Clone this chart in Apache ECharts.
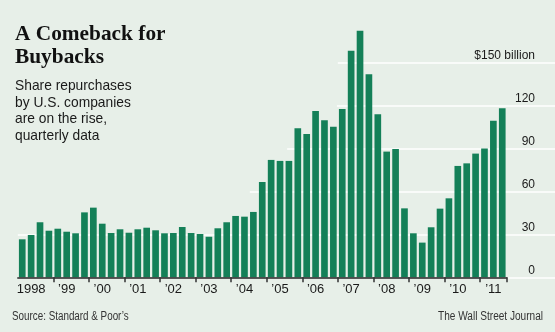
<!DOCTYPE html>
<html>
<head>
<meta charset="utf-8">
<script src="https://cdn.jsdelivr.net/npm/echarts@6/dist/echarts.min.js"></script>
<style>
html,body{margin:0;padding:0;background:#e7efe8;}
#c{width:555px;height:332px;}
</style>
</head>
<body>
<div id="c"></div>
<script>
// Quarterly share repurchases, $ billion (1998 Q1 .. 2011 Q3)
const years = [1998,1999,2000,2001,2002,2003,2004,2005,2006,2007,2008,2009,2010,2011];
const yearLabels = ['1998','\u201999','\u201900','\u201901','\u201902','\u201903','\u201904','\u201905','\u201906','\u201907','\u201908','\u201909','\u201910','\u201911'];
const buybacks = [
  26.5, 29.5, 38.4, 32.5,
  33.9, 31.8, 30.7, 45.3,
  48.6, 37.4, 30.9, 33.5,
  31.1, 33.5, 34.6, 32.8,
  30.7, 30.9, 35.1, 30.9,
  30.2, 28.3, 34.2, 38.4,
  42.8, 42.3, 45.6, 66.5,
  81.9, 81.2, 81.2, 104,
  100, 116, 109.5, 105,
  117.4, 158, 172, 141.7,
  113.7, 87.7, 89.5, 48.1,
  30.7, 24.2, 34.9, 47.9,
  55.1, 77.7, 79.5, 86.3,
  89.8, 109.3, 118
];
const quarters = buybacks.map((v, i) => years[Math.floor(i / 4)] + ' Q' + (i % 4 + 1));
const yTickValues = [0, 30, 60, 90, 120, 150];
const yTopLabel = '$150 billion';

// styling: where each white gridline begins (in quarter units from 1998 Q1)
const gridLineStart = {0: 0, 30: 0, 60: 26.1, 90: 30.3, 120: 35.9, 150: 36.0};

const sans = '"Liberation Sans", sans-serif';
const plotLeft = 17.8, plotTop = 19.3, plotH = 258, plotW = 488.9;
const slot = plotW / buybacks.length;
const fullMax = (555 - plotLeft) / slot;

const gridPairs = yTickValues.map(v => [
  {coord: [gridLineStart[v], v]},
  {coord: [fullMax, v]}
]);

const chart = echarts.init(document.getElementById('c'), null, {renderer: 'canvas'});
chart.setOption({
  backgroundColor: '#e7efe8',
  animation: false,
  grid: [
    {left: plotLeft, top: plotTop, width: plotW, height: plotH, containLabel: false},
    {left: plotLeft, right: 0, top: plotTop, height: plotH, containLabel: false}
  ],
  xAxis: [
    {
      type: 'category', gridIndex: 0, data: quarters, boundaryGap: true,
      axisLine: {show: true, lineStyle: {color: '#222', width: 1.5}},
      axisTick: {show: true, length: 5, lineStyle: {color: '#333', width: 1.5},
        interval: (idx) => idx % 4 === 0 && idx > 0},
      axisLabel: {
        interval: (idx) => idx % 4 === 1,
        formatter: (val, idx) => yearLabels[Math.floor(idx / 4)],
        fontFamily: sans, fontSize: 13, color: '#1a1a1a', margin: 6
      },
      z: 5
    },
    {type: 'value', gridIndex: 1, min: 0, max: fullMax, show: false}
  ],
  yAxis: [
    {type: 'value', gridIndex: 0, min: 0, max: 180, interval: 30, show: false},
    {
      type: 'value', gridIndex: 1, min: 0, max: 180, interval: 30, position: 'right',
      axisLine: {show: false}, axisTick: {show: false},
      splitLine: {show: false},
      axisLabel: {
        inside: true, margin: 20, showMaxLabel: false,
        verticalAlign: 'bottom', lineHeight: 14,
        fontFamily: sans, fontSize: 12, color: '#1a1a1a',
        formatter: (v) => v === 150 ? yTopLabel : (yTickValues.indexOf(v) >= 0 ? String(v) : '')
      }
    }
  ],
  series: [
    {
      type: 'line', xAxisIndex: 1, yAxisIndex: 1, data: [], silent: true, z: 1,
      markLine: {
        silent: true, z: 1, symbol: ['none', 'none'], label: {show: false},
        lineStyle: {color: '#ffffff', width: 1.5, type: 'solid'},
        emphasis: {disabled: true},
        data: gridPairs
      }
    },
    {
      type: 'bar', xAxisIndex: 0, yAxisIndex: 0, data: buybacks,
      barCategoryGap: '25%', itemStyle: {color: '#148058'}, z: 3
    }
  ],
  graphic: [
    {type: 'text', x: 15, y: 34, scaleX: 0.97, style: {text: 'A Comeback for', font: 'bold 22px "Liberation Serif", serif', fill: '#111', align: 'left', verticalAlign: 'middle'}},
    {type: 'text', x: 15, y: 57.5, scaleX: 0.97, style: {text: 'Buybacks', font: 'bold 22px "Liberation Serif", serif', fill: '#111', align: 'left', verticalAlign: 'middle'}},
    {type: 'text', x: 15, y: 86, scaleX: 0.92, style: {text: 'Share repurchases', font: '15px ' + sans, fill: '#1a1a1a', align: 'left', verticalAlign: 'middle'}},
    {type: 'text', x: 15, y: 102.5, scaleX: 0.92, style: {text: 'by U.S. companies', font: '15px ' + sans, fill: '#1a1a1a', align: 'left', verticalAlign: 'middle'}},
    {type: 'text', x: 15, y: 119, scaleX: 0.92, style: {text: 'are on the rise,', font: '15px ' + sans, fill: '#1a1a1a', align: 'left', verticalAlign: 'middle'}},
    {type: 'text', x: 15, y: 135.5, scaleX: 0.92, style: {text: 'quarterly data', font: '15px ' + sans, fill: '#1a1a1a', align: 'left', verticalAlign: 'middle'}},
    {type: 'text', x: 12, y: 317, scaleX: 0.82, style: {text: 'Source: Standard & Poor\u2019s', font: '12px ' + sans, fill: '#333', align: 'left', verticalAlign: 'middle'}},
    {type: 'text', x: 543, y: 317, scaleX: 0.84, style: {text: 'The Wall Street Journal', font: '12px ' + sans, fill: '#333', align: 'right', verticalAlign: 'middle'}}
  ]
});
</script>
</body>
</html>
